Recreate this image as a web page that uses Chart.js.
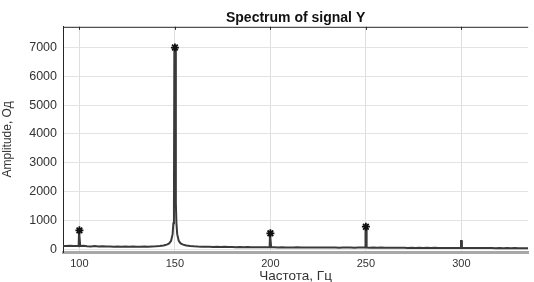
<!DOCTYPE html>
<html>
<head>
<meta charset="utf-8">
<script src="https://cdn.jsdelivr.net/npm/chart.js@4"></script>
<style>
  html, body { margin: 0; padding: 0; background: #fff; }
  canvas { display: block; }
</style>
</head>
<body>
<canvas id="spectrumChart" width="534" height="282"></canvas>
<script>
// Spectrum samples (Hz / amplitude)
let freqHz = [
    91, 93, 95, 97, 99, 99.6, 99.8, 100.2, 100.4, 102, 104, 106, 108, 110, 112, 114, 116, 118, 120,
    122, 124, 126, 128, 130, 132, 134, 136, 138, 140, 142, 144, 145, 146, 147, 148, 148.8, 149.2,
    149.5, 149.7, 150.3, 150.5, 150.8, 151.2, 152, 153, 154, 155, 156, 158, 160, 162, 164, 166,
    168, 170, 172, 174, 176, 178, 180, 182, 184, 186, 188, 190, 192, 194, 196, 198, 199.6, 199.8,
    200.2, 200.4, 202, 204, 206, 208, 210, 212, 214, 216, 218, 220, 222, 224, 226, 228, 230, 232,
    234, 236, 238, 240, 242, 244, 246, 248, 249.6, 249.8, 250.2, 250.4, 252, 254, 256, 258, 260,
    262, 264, 266, 268, 270, 272, 274, 276, 278, 280, 282, 284, 286, 288, 290, 292, 294, 296, 298,
    299.7, 299.8, 300.2, 300.3, 302, 304, 306, 308, 310, 312, 314, 316, 318, 320, 322, 324, 326,
    328, 330, 332, 335
];
let amplitude = [
    112, 105, 118, 108, 110, 104, 650, 650, 108, 115, 100, 95, 104, 92, 98, 88, 95, 86, 92,
    84, 90, 82, 88, 80, 86, 90, 85, 94, 98, 110, 125, 140, 165, 200, 290, 520, 900,
    1600, 7000, 7000, 1600, 900, 520, 290, 200, 165, 140, 125, 110, 98, 90, 85, 80,
    84, 76, 80, 72, 78, 70, 74, 68, 72, 66, 70, 64, 68, 62, 66, 64, 66, 548,
    548, 64, 62, 58, 64, 56, 60, 55, 62, 57, 60, 54, 58, 53, 59, 55, 58, 52,
    56, 50, 55, 52, 57, 50, 54, 52, 55, 778, 778, 52, 50, 54, 48, 52, 46,
    50, 45, 49, 44, 48, 43, 47, 42, 46, 41, 45, 40, 44, 40, 43, 39, 42, 38, 41,
    40, 280, 280, 40, 38, 41, 37, 40, 36, 39, 35, 38, 34, 37, 33, 36, 32,
    35, 31, 34, 32
];

// Marked harmonics
let peakHz = [100, 150, 200, 250];
let peakAmp = [652, 7000, 548, 778];

let xTicks = [100, 150, 200, 250, 300];
let yTicks = [0, 1000, 2000, 3000, 4000, 5000, 6000, 7000];

let spectrumPoints = freqHz.map((f, i) => ({ x: f, y: amplitude[i] }));
let peakPoints = peakHz.map((f, i) => ({ x: f, y: peakAmp[i] }));

// frame on top of the plot area
let frameLines = {
    id: 'frameLines',
    afterDraw(chart) {
        let a = chart.chartArea;
        let c = chart.ctx;
        c.save();
        c.strokeStyle = '#262626';
        c.lineWidth = 1;
        c.beginPath();
        c.moveTo(a.left, a.top + 0.5);
        c.lineTo(a.right, a.top + 0.5);
        c.stroke();
        // small inner ticks on the top edge
        let xs = chart.scales.x;
        xTicks.forEach(t => {
            let px = Math.round(xs.getPixelForValue(t)) + 0.5;
            c.beginPath();
            c.moveTo(px, a.top);
            c.lineTo(px, a.top + 3);
            c.stroke();
        });
        c.restore();
    }
};

let ctx = document.getElementById('spectrumChart').getContext('2d');
let chart = new Chart(ctx, {
    type: 'line',
    data: {
        datasets: [{
            data: peakPoints,
            showLine: false,
            pointStyle: 'star',
            pointRadius: 4,
            pointBorderColor: '#111',
            pointBorderWidth: 1.8,
            pointBackgroundColor: '#111',
            order: 0
        }, {
            data: spectrumPoints,
            borderColor: '#3a3a3a',
            borderWidth: 2,
            pointRadius: 0,
            tension: 0,
            fill: false,
            order: 1
        }]
    },
    options: {
        responsive: false,
        animation: false,
        layout: { padding: { left: 0, right: 0, top: 0, bottom: 0 } },
        plugins: {
            legend: { display: false },
            tooltip: { enabled: false },
            title: {
                display: true,
                fullSize: false,
                text: 'Spectrum of signal Y',
                color: '#111',
                font: { family: 'Liberation Sans, Arial, sans-serif', size: 14, weight: 'bold' },
                padding: { top: 10, bottom: 0 }
            }
        },
        scales: {
            x: {
                type: 'linear',
                min: 91.4,
                max: 335,
                afterFit(scale) { scale.height = 30; },
                afterBuildTicks(scale) { scale.ticks = xTicks.map(v => ({ value: v })); },
                ticks: {
                    color: '#333',
                    padding: 5,
                    maxRotation: 0,
                    callback: v => String(v),
                    font: { family: 'Liberation Sans, Arial, sans-serif', size: 11 }
                },
                grid: { color: '#dedede', lineWidth: 1, drawTicks: false },
                border: { color: '#a8a8a8', width: 3 },
                title: {
                    display: true,
                    text: 'Частота, Гц',
                    color: '#333',
                    padding: { top: 0, bottom: -2 },
                    font: { family: 'Liberation Sans, Arial, sans-serif', size: 13.5 }
                }
            },
            y: {
                min: -100,
                max: 7720,
                afterFit(scale) { scale.width = 63; },
                afterBuildTicks(scale) { scale.ticks = yTicks.map(v => ({ value: v })); },
                ticks: {
                    color: '#333',
                    padding: 6,
                    callback: v => String(v),
                    font: { family: 'Liberation Sans, Arial, sans-serif', size: 12.5 }
                },
                grid: { color: '#e3e3e3', lineWidth: 1, drawTicks: false },
                border: { color: '#262626', width: 1 },
                title: {
                    display: true,
                    text: 'Amplitude, Од',
                    color: '#333',
                    padding: { top: 0, bottom: 2 },
                    font: { family: 'Liberation Sans Narrow, Arial Narrow, sans-serif', size: 12 }
                }
            }
        }
    },
    plugins: [frameLines]
});
</script>
</body>
</html>
